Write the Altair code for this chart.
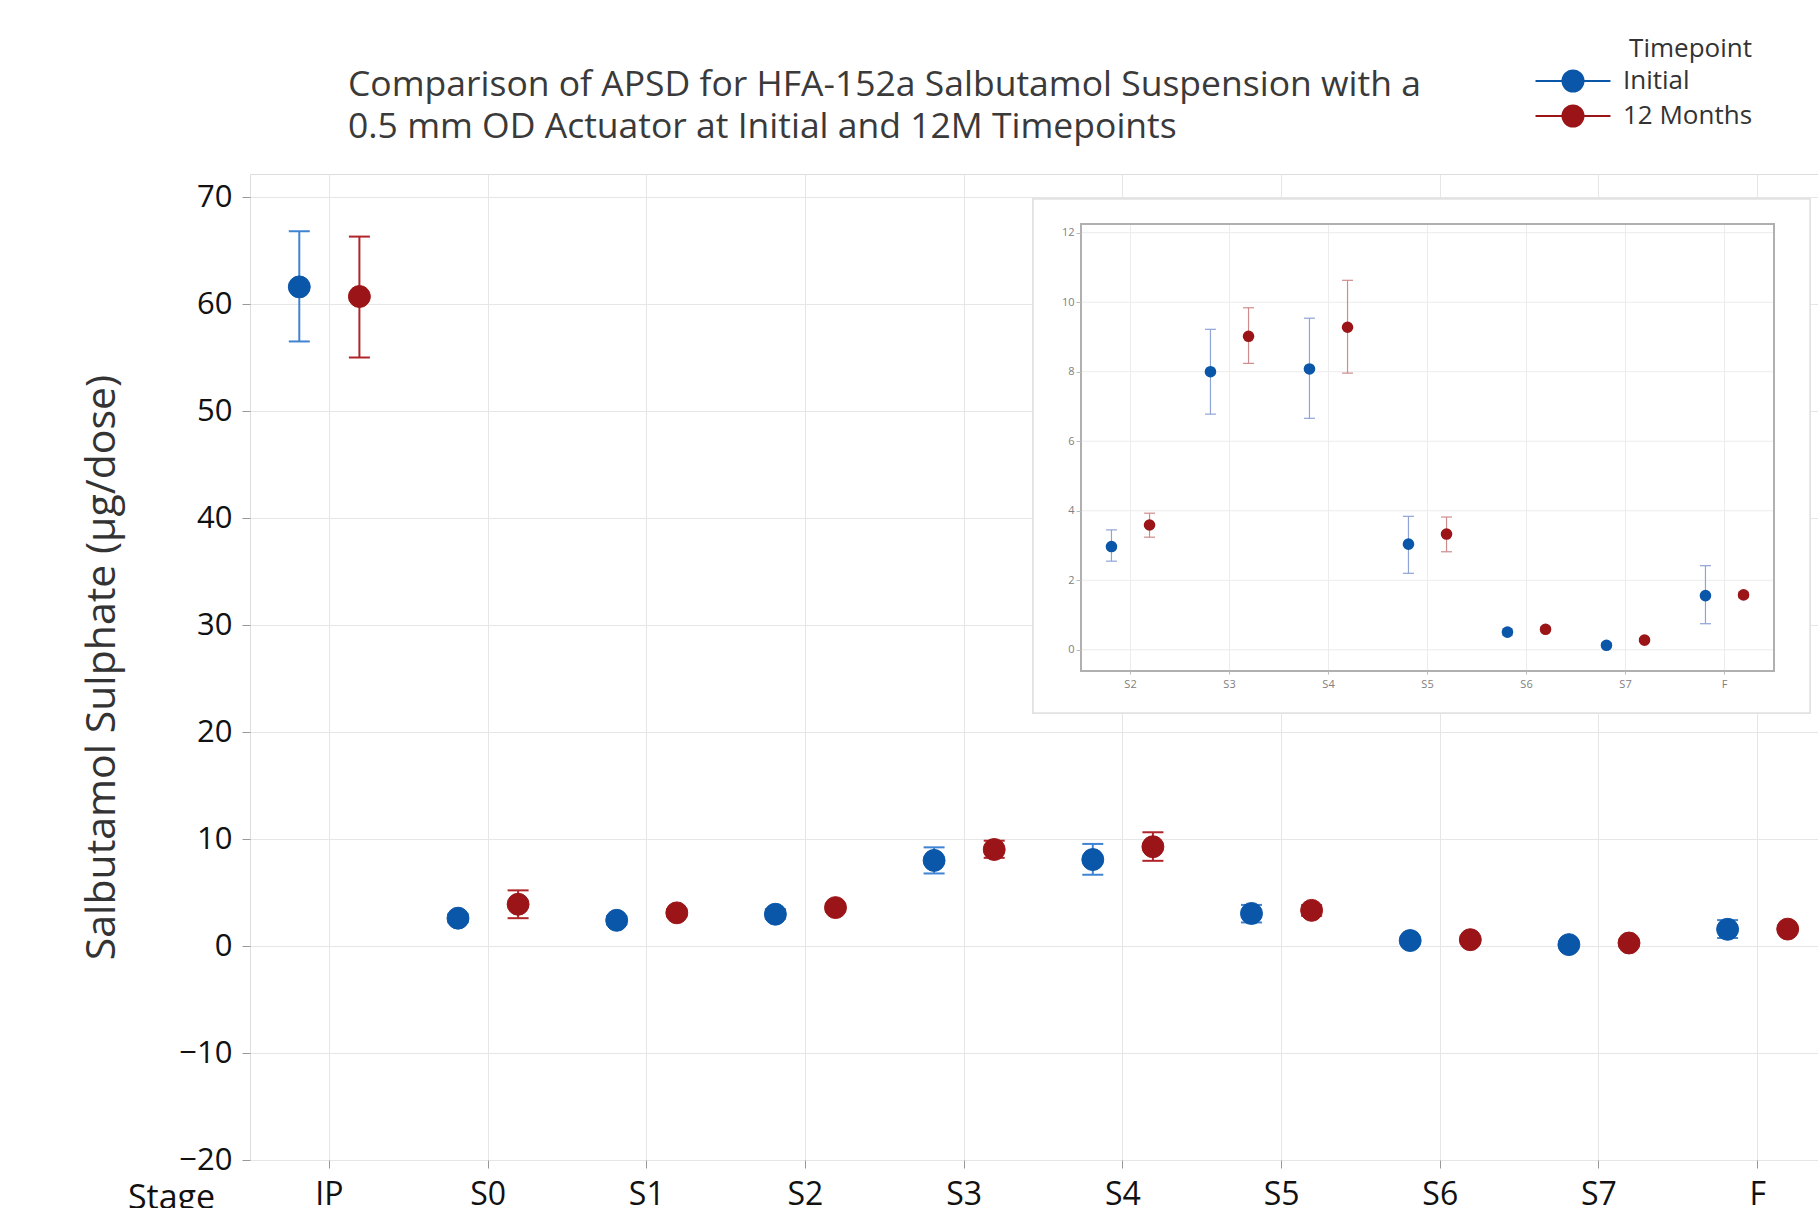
import altair as alt
import pandas as pd

# ---------------- data ----------------
stages = ["IP", "S0", "S1", "S2", "S3", "S4", "S5", "S6", "S7", "F"]
inset_stages = ["S2", "S3", "S4", "S5", "S6", "S7", "F"]
timepoints = ["Initial", "12 Months"]

initial_mean = [61.6, 2.6, 2.4, 2.97, 8.00, 8.08, 3.04, 0.51, 0.13, 1.56]
initial_low = [56.5, 2.2, 2.0, 2.55, 6.78, 6.66, 2.20, 0.42, 0.06, 0.75]
initial_high = [66.8, 3.0, 2.8, 3.45, 9.22, 9.54, 3.84, 0.60, 0.20, 2.42]

months12_mean = [60.7, 3.9, 3.1, 3.59, 9.02, 9.28, 3.33, 0.59, 0.28, 1.58]
months12_low = [55.0, 2.6, 2.8, 3.24, 8.24, 7.96, 2.82, 0.52, 0.22, 1.50]
months12_high = [66.3, 5.2, 3.4, 3.93, 9.84, 10.63, 3.82, 0.66, 0.34, 1.66]

y_ticks = [-20, -10, 0, 10, 20, 30, 40, 50, 60, 70]
inset_y_ticks = [0, 2, 4, 6, 8, 10, 12]

rows = []
for i, s in enumerate(stages):
    rows.append(dict(stage=s, timepoint="Initial", mean=initial_mean[i], low=initial_low[i], high=initial_high[i]))
    rows.append(dict(stage=s, timepoint="12 Months", mean=months12_mean[i], low=months12_low[i], high=months12_high[i]))
df = pd.DataFrame(rows)
inset_df = df[df["stage"].isin(inset_stages)].reset_index(drop=True)
inset_grid_df = pd.DataFrame({"v": inset_y_ticks})
inset_stage_df = pd.DataFrame({"stage": inset_stages})

FONT = "Open Sans"
BLUE = "#0a56a8"
RED = "#9b1518"
BLUE_BAR = "#3f84d2"
RED_BAR = "#b0252a"
BLUE_BAR_IN = "#8fa3d6"
RED_BAR_IN = "#cf8c8c"

# ---------------- main chart ----------------
x_axis = alt.Axis(
    title="Stage", titleFont=FONT, titleFontSize=34, titleFontWeight="normal", titleColor="#111",
    titleAngle=0, titleX=-79, titleY=38, titleAlign="center", titleBaseline="middle",
    labelFont=FONT, labelFontSize=32, labelColor="#111", labelAngle=0, labelPadding=11,
    tickSize=8, tickColor="#999", domain=False, grid=True, gridColor="#e6e6e6",
    bandPosition=0.5,
)
y_axis = alt.Axis(
    title="Salbutamol Sulphate (µg/dose)", titleFont=FONT, titleFontSize=41, titleFontWeight="normal",
    titleColor="#333", titleX=-148, titleY=493, titleAngle=270, titleAlign="center", titleBaseline="middle",
    values=y_ticks, labelFont=FONT, labelFontSize=31, labelColor="#111", labelPadding=10,
    tickSize=8, tickColor="#999", domain=False, grid=True, gridColor="#e6e6e6",
)
x_scale = alt.Scale(domain=stages, range=[0, 1587], paddingInner=0, paddingOuter=0)
x_main = alt.X("stage:N", sort=stages, scale=x_scale, axis=x_axis)
xoff_main = alt.XOffset("timepoint:N", sort=timepoints,
                        scale=alt.Scale(domain=timepoints, paddingInner=0, paddingOuter=0.32))
y_scale = alt.Scale(domain=[-20, 72.15], nice=False, zero=False)

base = alt.Chart(df)

main_layers = []
for tp, col in [("Initial", BLUE_BAR), ("12 Months", RED_BAR)]:
    sub = base.transform_filter(alt.datum.timepoint == tp)
    main_layers.append(sub.mark_rule(color=col, strokeWidth=2).encode(
        x=x_main, xOffset=xoff_main,
        y=alt.Y("low:Q", scale=y_scale, axis=y_axis), y2="high:Q"))
    for fld in ["low", "high"]:
        main_layers.append(sub.mark_tick(color=col, thickness=2, size=21, opacity=1).encode(
            x=x_main, xOffset=xoff_main,
            y=alt.Y(f"{fld}:Q", scale=y_scale, axis=y_axis)))

legend = alt.Legend(
    title="Timepoint", orient="none", legendX=1284, legendY=-138,
    titleFont=FONT, titleFontSize=26, titleFontWeight="normal", titleColor="#333", titlePadding=6,
    titleAnchor="end", titleAlign="right",
    labelFont=FONT, labelFontSize=26, labelColor="#333",
    symbolType="M-3.57,0H3.57M-1,0A1,1,0,1,0,1,0A1,1,0,1,0,-1,0",
    symbolSize=441, symbolStrokeWidth=2, symbolOffset=26, labelOffset=37, rowPadding=5,
    symbolOpacity=1, padding=0,
)
tp_scale = alt.Scale(domain=timepoints, range=[BLUE, RED])
main_points = base.mark_circle(size=480, opacity=1, strokeWidth=1).encode(
    x=x_main, xOffset=xoff_main,
    y=alt.Y("mean:Q", scale=y_scale, axis=y_axis),
    fill=alt.Fill("timepoint:N", sort=timepoints, scale=tp_scale, legend=legend),
    stroke=alt.Stroke("timepoint:N", sort=timepoints, scale=tp_scale, legend=legend),
)
main_layers.append(main_points)
main = alt.layer(*main_layers)

# ---------------- inset ----------------
x_in_axis = alt.Axis(title=None, orient="bottom", offset=-489, labelFont=FONT, labelFontSize=11,
                     labelColor="#808080", labelAngle=0, labelPadding=4, tickSize=3, tickColor="#bbb",
                     domain=False, grid=False, bandPosition=0.5, zindex=2)
y_in_axis = alt.Axis(title=None, orient="left", offset=-831, values=inset_y_ticks, format="d",
                     labelFont=FONT, labelFontSize=11, labelColor="#808080", labelPadding=2,
                     tickSize=5, tickColor="#bbb", domain=False, grid=False, zindex=2)
x_in_scale = alt.Scale(domain=inset_stages, range=[831, 1524], paddingInner=0, paddingOuter=0)
x_in = alt.X("stage:N", sort=inset_stages, scale=x_in_scale, axis=x_in_axis)
xoff_in = alt.XOffset("timepoint:N", sort=timepoints,
                      scale=alt.Scale(domain=timepoints, paddingInner=0, paddingOuter=0.3))
y_in_scale = alt.Scale(domain=[-0.61, 12.25], range=[497, 50], nice=False, zero=False)

inset_bg = alt.Chart(inset_stage_df).mark_rect(fill="white", stroke="#e2e2e2", strokeWidth=1.5).encode(
    x=alt.value(783), x2=alt.value(1560), y=alt.value(25), y2=alt.value(539))
inset_vgrid = alt.Chart(inset_stage_df).mark_rule(color="#ececec", strokeWidth=1).encode(
    x=alt.X("stage:N", sort=inset_stages, scale=x_in_scale, axis=x_in_axis),
    y=alt.datum(-0.61, scale=y_in_scale), y2=alt.datum(12.25))
inset_hgrid = alt.Chart(inset_grid_df).mark_rule(color="#ececec", strokeWidth=1).encode(
    y=alt.Y("v:Q", scale=y_in_scale, axis=y_in_axis), x=alt.value(831), x2=alt.value(1524))
inset_frame = alt.Chart(inset_stage_df).mark_rect(fill=None, stroke="#b0b0b0", strokeWidth=1.5).encode(
    x=alt.value(831), x2=alt.value(1524), y=alt.value(50), y2=alt.value(497))

inset_layers = [inset_bg, inset_vgrid, inset_hgrid, inset_frame]
ibase = alt.Chart(inset_df)
for tp, col in [("Initial", BLUE_BAR_IN), ("12 Months", RED_BAR_IN)]:
    sub = ibase.transform_filter(alt.datum.timepoint == tp)
    inset_layers.append(sub.mark_rule(color=col, strokeWidth=1.2).encode(
        x=x_in, xOffset=xoff_in, y=alt.Y("low:Q", scale=y_in_scale, axis=y_in_axis), y2="high:Q"))
    for fld in ["low", "high"]:
        inset_layers.append(sub.mark_tick(color=col, thickness=1.2, size=11, opacity=1).encode(
            x=x_in, xOffset=xoff_in, y=alt.Y(f"{fld}:Q", scale=y_in_scale, axis=y_in_axis)))
for tp, col in [("Initial", BLUE), ("12 Months", RED)]:
    sub = ibase.transform_filter(alt.datum.timepoint == tp)
    inset_layers.append(sub.mark_circle(size=135, opacity=1, color=col).encode(
        x=x_in, xOffset=xoff_in, y=alt.Y("mean:Q", scale=y_in_scale, axis=y_in_axis)))
inset = alt.layer(*inset_layers)

chart = alt.layer(main, inset).resolve_scale(x="independent", y="independent", xOffset="independent").properties(
    width=1568, height=986,
    title=alt.Title(
        ["Comparison of APSD for HFA-152a Salbutamol Suspension with a",
         "0.5 mm OD Actuator at Initial and 12M Timepoints"],
        anchor="start", frame="group", dx=98, offset=-109, font=FONT, fontSize=35.5,
        fontWeight="normal", color="#3a3a3a", lineHeight=42),
    autosize=alt.AutoSizeParams(type="none"),
    padding={"left": 250, "top": 174, "right": 0, "bottom": 48},
).configure_view(stroke="#a0a0a0", strokeWidth=2).configure(background="white")

chart.save("out.html", embed_options={"renderer": "svg", "actions": False})
